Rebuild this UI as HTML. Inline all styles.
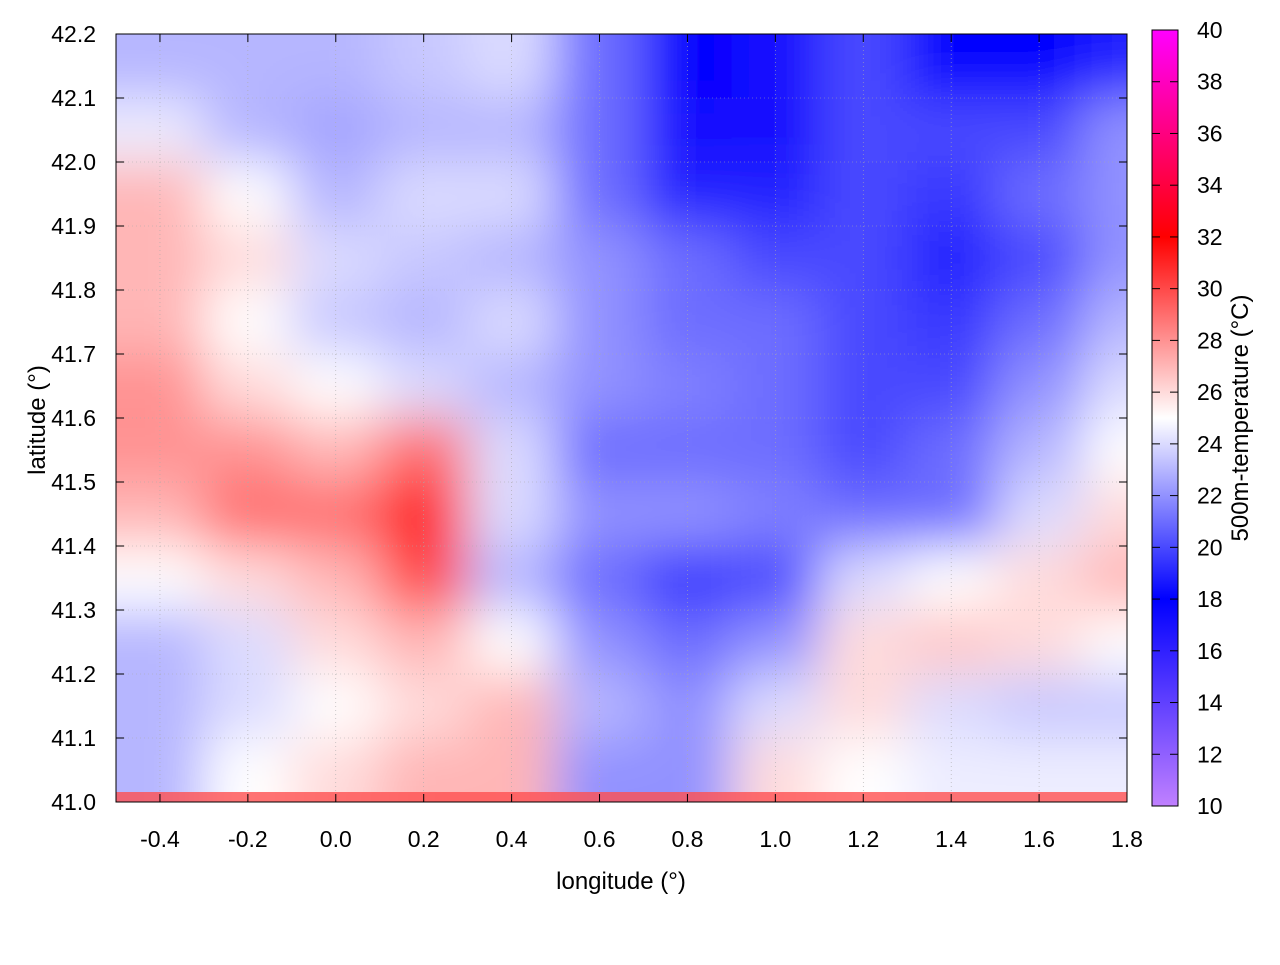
<!DOCTYPE html>
<html><head><meta charset="utf-8"><style>
body{margin:0;background:#fff;}
svg text{font-family:"Liberation Sans",sans-serif;fill:#000;}
</style></head><body>
<svg id="c" width="1280" height="960" xmlns="http://www.w3.org/2000/svg">
<defs>
<clipPath id="pc"><rect x="116" y="34" width="1011" height="768"/></clipPath>
<filter id="bl" filterUnits="userSpaceOnUse" x="-200" y="-200" width="1700" height="1400"><feGaussianBlur stdDeviation="26"/></filter>
<linearGradient id="cg" x1="0" y1="1" x2="0" y2="0">
<stop offset="0" stop-color="#c080ff"/>
<stop offset="0.2667" stop-color="#0000ff"/>
<stop offset="0.5" stop-color="#ffffff"/>
<stop offset="0.7333" stop-color="#ff0000"/>
<stop offset="1" stop-color="#ff00ff"/>
</linearGradient>
</defs>
<g id="heat" clip-path="url(#pc)"><g id="cells" filter="url(#bl)"></g>
<rect x="116" y="792" width="1011" height="10" fill="#ff5050" opacity="0.8"/>
</g>
<g id="grid"></g>
<rect x="116" y="34" width="1011" height="768" fill="none" stroke="#000" stroke-width="1"/>
<g id="axes"></g>
<rect x="1152" y="30" width="26" height="776" fill="url(#cg)" stroke="#000"/>
<g id="cbt"></g>
<text x="621" y="889" font-size="24" text-anchor="middle">longitude (°)</text>
<text transform="translate(45,420) rotate(-90)" font-size="24" text-anchor="middle">latitude (°)</text>
<text transform="translate(1248,418) rotate(-90)" font-size="24" text-anchor="middle">500m-temperature (°C)</text>
</svg>
<script>
const lonCenters=[-0.4,-0.2,0.0,0.2,0.4,0.6,0.8,1.0,1.2,1.4,1.6,1.8];
const latCenters=[42.15,42.05,41.95,41.85,41.75,41.65,41.55,41.45,41.35,41.25,41.15,41.05];
const temps=[
[23,23,23,23.5,24,21,18,17,20,18,18,19],
[24.5,23,22.5,23,23,21,17,17,20,20,20,22],
[27,25,23,24,24,21,19,19,20,19.5,21,22],
[27,26,24,23.5,23,22,21,20,20,19,20,22],
[27,25,23.5,23,24,22,21,21,20,19.5,21,23],
[28,26,25,24,23,22,21.5,21,20,20,22,24],
[28,28,27,29,24,21,21,21,20,21,23,25],
[27,29,29,31,24,22,22,21.5,21,21,24,26],
[25,26,27,30,23,21,19.5,20,24,25,26,27],
[23,24,26,27,25,22,21,22,26,26.5,26,25],
[23,24,25,26,27,23,22,24,26,24,23.5,23.5],
[23,25,26,27,27,22,22,26,25,24.5,24.5,24.5]];
const xTicks=[-0.4,-0.2,0.0,0.2,0.4,0.6,0.8,1.0,1.2,1.4,1.6,1.8];
const yTicks=[41.0,41.1,41.2,41.3,41.4,41.5,41.6,41.7,41.8,41.9,42.0,42.1,42.2];
const cbTicks=[10,12,14,16,18,20,22,24,26,28,30,32,34,36,38,40];
const X=v=>116+(v+0.5)/2.3*1011;
const Y=v=>802-(v-41.0)/1.2*768;
const CY=v=>806-(v-10)/30*776;
const stops=[[10,[192,128,255]],[18,[0,0,255]],[25,[255,255,255]],[32,[255,0,0]],[40,[255,0,255]]];
function col(t){t=Math.max(10,Math.min(40,t));for(let i=0;i<stops.length-1;i++){const a=stops[i],b=stops[i+1];if(t<=b[0]){const f=(t-a[0])/(b[0]-a[0]);const c=a[1].map((v,k)=>Math.round(v+(b[1][k]-v)*f));return `rgb(${c})`;}}return 'rgb(255,0,255)';}
const NS='http://www.w3.org/2000/svg';
function mk(tag,attrs,parent){const e=document.createElementNS(NS,tag);for(const k in attrs)e.setAttribute(k,attrs[k]);parent.appendChild(e);return e;}
const cells=document.getElementById('cells');
latCenters.forEach((la,r)=>{lonCenters.forEach((lo,c)=>{
 let x0=X(lo-0.1),x1=X(lo+0.1),y0=Y(la+0.05),y1=Y(la-0.05);
 if(c===0)x0-=120; if(c===lonCenters.length-1)x1+=120;
 if(r===0)y0-=120; if(r===latCenters.length-1)y1+=120;
 const e=mk('rect',{x:x0,y:y0,width:x1-x0+1,height:y1-y0+1,fill:col(temps[r][c])},cells);
 
 
});});
const grid=document.getElementById('grid'),axes=document.getElementById('axes');
xTicks.forEach(v=>{const x=X(v);
 mk('line',{x1:x,y1:34,x2:x,y2:802,stroke:'#aaa','stroke-width':0.6,'stroke-dasharray':'1 3'},grid);
 mk('line',{x1:x,y1:802,x2:x,y2:794,stroke:'#000'},axes);
 mk('line',{x1:x,y1:34,x2:x,y2:42,stroke:'#000'},axes);
 const t=mk('text',{x:x,y:847,'font-size':23,'text-anchor':'middle'},axes);t.textContent=v.toFixed(1);
 
 
});
yTicks.forEach(v=>{const y=Y(v);
 mk('line',{x1:116,y1:y,x2:1127,y2:y,stroke:'#aaa','stroke-width':0.6,'stroke-dasharray':'1 3'},grid);
 mk('line',{x1:116,y1:y,x2:124,y2:y,stroke:'#000'},axes);
 mk('line',{x1:1127,y1:y,x2:1119,y2:y,stroke:'#000'},axes);
 const t=mk('text',{x:96,y:y+8,'font-size':23,'text-anchor':'end'},axes);t.textContent=v.toFixed(1);
 
 
});
const cbt=document.getElementById('cbt');
cbTicks.forEach(v=>{const y=CY(v);
 if(v>10&&v<40){mk('line',{x1:1152,y1:y,x2:1160,y2:y,stroke:'#000'},cbt);mk('line',{x1:1178,y1:y,x2:1170,y2:y,stroke:'#000'},cbt);}
 const t=mk('text',{x:1197,y:y+8,'font-size':23},cbt);t.textContent=v;
 
 
});
</script>
</body></html>
